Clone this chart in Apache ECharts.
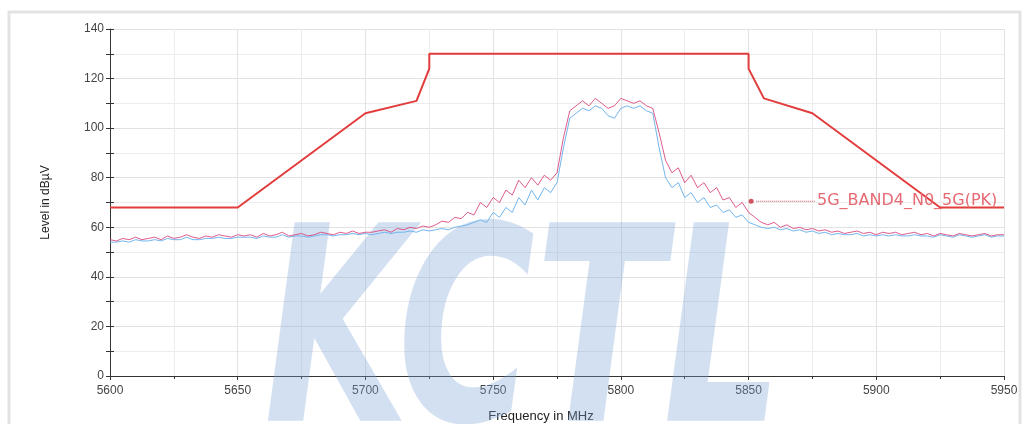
<!DOCTYPE html>
<html>
<head>
<meta charset="utf-8">
<script src="https://cdn.jsdelivr.net/npm/echarts@6/dist/echarts.min.js"></script>
<style>
html,body{margin:0;padding:0;background:#fff;}
#chart{width:1029px;height:424px;}
</style>
</head>
<body>
<div id="chart"></div>
<script>
// Sweep grid (MHz)
const FREQ_START = 5600;
const FREQ_STEP = 2.5;

// Peak trace (magenta), dBµV, one value per sweep step 5600..5950
const peakTrace = [
  55, 54.5, 55.5, 55, 56, 55, 55.5, 56, 55, 56.5, 55.5, 56, 57, 56, 55.5, 56.5, 56, 57, 56.5, 56, 57,
  56.5, 57, 56, 57.5, 56.5, 57, 58, 56.5, 57, 57.5, 56.5, 57, 58, 57.5, 57, 58, 57.5, 58.5, 57.5, 58,
  58, 58.5, 59, 58, 59.5, 59, 60, 59.5, 60.5, 60,
  61, 62.5, 62, 64, 63.5, 66, 65, 70, 68, 72, 70, 75, 73, 79, 76, 80, 77, 81, 79, 82,
  96, 107, 109, 111, 109, 112, 110, 108, 109, 112, 111, 110, 111, 109, 108,
  98, 87, 82, 84, 78, 81, 76, 78, 74, 76, 71, 72, 68, 70, 66, 64, 62, 61, 62, 60, 61, 59.5, 60, 59, 59.5,
  58.5, 59, 58, 58.5, 57.5, 58, 58.5, 57.5, 58, 57, 58, 57.5, 58, 57, 57.5, 58, 57, 57.5, 56.5, 57.5,
  57, 56.5, 57.5, 57, 56.5, 57, 57.5, 56.5, 57, 57
];

// Average trace (light blue), dBµV
const avgTrace = [
  54, 54, 54.5, 54, 55, 54.5, 54.5, 55, 54.5, 55.5, 55, 55, 56, 55, 55, 55.5, 55.5, 56, 55.5, 55.5, 56,
  56, 56, 55.5, 56.5, 56, 56, 57, 56, 56.5, 56.5, 56, 56.5, 57, 57, 56.5, 57, 57, 57.5, 57, 57.5,
  57, 57.5, 58, 57.5, 58, 58, 58.5, 58, 59, 58.5,
  59, 59.5, 59, 60, 60.5, 61, 62, 63, 62, 66, 64, 68, 66, 72, 69, 75, 71, 76, 74, 78,
  92, 104, 106, 108, 107, 109, 108, 105, 104, 108, 109, 108, 109, 107, 106,
  92, 80, 76, 78, 72, 74, 70, 72, 68, 69, 66, 67, 64, 65, 62, 61, 60, 59.5, 60, 59, 59.5, 58.5, 59, 58, 58.5,
  57.5, 58, 57, 57.5, 57, 57, 57.5, 56.5, 57, 56.5, 57, 56.5, 57, 56.5, 56.5, 57, 56.5, 56.5, 56, 57,
  56.5, 56, 57, 56.5, 56, 56.5, 57, 56, 56.5, 56.5
];

// Limit line
const limitFreq  = [5600, 5650, 5700, 5720, 5725, 5725, 5850, 5850, 5856, 5875, 5925, 5950];
const limitLevel = [68,   68,   106,  111,  124,  130,  130,  124,  112,  106,  68,   68];

// Marker and limit label
const markerPoint = [5851, 70.5];
const limitLabelLine = [[5853, 70.5], [5876, 70.5]];
const limitName = '5G_BAND4_N0_5G(PK)';

const toXY = arr => arr.map((v, i) => [FREQ_START + i * FREQ_STEP, v]);
const limitData = limitFreq.map((f, i) => [f, limitLevel[i]]);

const chart = echarts.init(document.getElementById('chart'), null, {renderer: 'canvas'});
const axisFont = '"Liberation Sans", Arial, sans-serif';

chart.setOption({
  backgroundColor: '#ffffff',
  animation: false,
  graphic: [
    {
      type: 'rect', z: -10, silent: true,
      shape: {x: 9, y: 12, width: 1011, height: 420},
      style: {fill: 'none', stroke: '#e3e3e3', lineWidth: 3}
    },
    {
      type: 'text', z: 1, silent: true,
      x: 264, y: 486, scaleX: 0.69,
      style: {
        text: 'KCTL',
        font: 'italic bold 272px "DejaVu Sans"',
        fill: 'rgba(125,163,215,0.34)',
        textVerticalAlign: 'bottom',
        verticalAlign: 'bottom'
      }
    }
  ],
  grid: {left: 110, right: 25, top: 29, bottom: 48, containLabel: false, outerBoundsMode: 'none'},
  xAxis: {
    type: 'value', min: 5600, max: 5950, interval: 50,
    name: 'Frequency in MHz', nameLocation: 'middle', nameGap: 34,
    nameTextStyle: {fontSize: 13, color: '#222', fontFamily: axisFont, padding: [0, 32, 0, 0]},
    axisLine: {show: true, onZero: false, lineStyle: {color: '#333', width: 1}},
    axisTick: {show: true, length: 4, lineStyle: {color: '#333'}},
    minorTick: {show: true, splitNumber: 2, length: 3, lineStyle: {color: '#333'}},
    axisLabel: {fontSize: 12, color: '#444', margin: 9, fontFamily: axisFont, formatter: v => String(v)},
    splitLine: {show: true, lineStyle: {color: '#e2e2e2', width: 1}},
    minorSplitLine: {show: true, lineStyle: {color: '#ececec', width: 1}}
  },
  yAxis: [
    {
      type: 'value', min: 0, max: 140, interval: 20,
      name: 'Level in dBµV', nameLocation: 'middle', nameGap: 58, nameRotate: 90,
      nameTextStyle: {fontSize: 12, color: '#222', fontFamily: axisFont},
      axisLine: {show: true, lineStyle: {color: '#333', width: 1}},
      axisTick: {show: true, length: 4, lineStyle: {color: '#333'}},
      minorTick: {show: true, splitNumber: 2, length: 4, lineStyle: {color: '#333'}},
      axisLabel: {fontSize: 12, color: '#444', margin: 6, fontFamily: axisFont},
      splitLine: {show: true, lineStyle: {color: '#e2e2e2', width: 1}},
      minorSplitLine: {show: true, lineStyle: {color: '#ececec', width: 1}}
    },
    {
      type: 'value', min: 0, max: 140, interval: 20, position: 'left',
      axisLine: {show: false},
      axisTick: {show: true, inside: true, length: 4, lineStyle: {color: '#333'}},
      minorTick: {show: true, splitNumber: 2, length: 4, lineStyle: {color: '#333'}},
      axisLabel: {show: false},
      splitLine: {show: false}
    }
  ],
  series: [
    {
      name: 'Average', type: 'line', data: toXY(avgTrace), showSymbol: false, z: 3,
      lineStyle: {color: '#72b6ee', width: 1}
    },
    {
      name: 'Peak', type: 'line', data: toXY(peakTrace), showSymbol: false, z: 4,
      lineStyle: {color: '#d8407a', width: 1, opacity: 0.85}
    },
    {
      name: 'Limit', type: 'line', data: limitData, showSymbol: false, z: 5,
      lineStyle: {color: '#e23c3c', width: 2}
    },
    {
      name: 'LimitLabel', type: 'line', showSymbol: false, z: 5,
      lineStyle: {color: '#c05060', width: 1, type: 'dotted'},
      data: limitLabelLine,
      endLabel: {
        show: true, distance: 2, formatter: limitName,
        color: '#e66a74', fontSize: 16, fontFamily: '"DejaVu Sans", sans-serif'
      }
    },
    {
      name: 'Marker', type: 'scatter', data: [markerPoint], z: 6,
      symbol: 'circle', symbolSize: 5, itemStyle: {color: '#c8283c'}
    }
  ]
});
</script>
</body>
</html>
